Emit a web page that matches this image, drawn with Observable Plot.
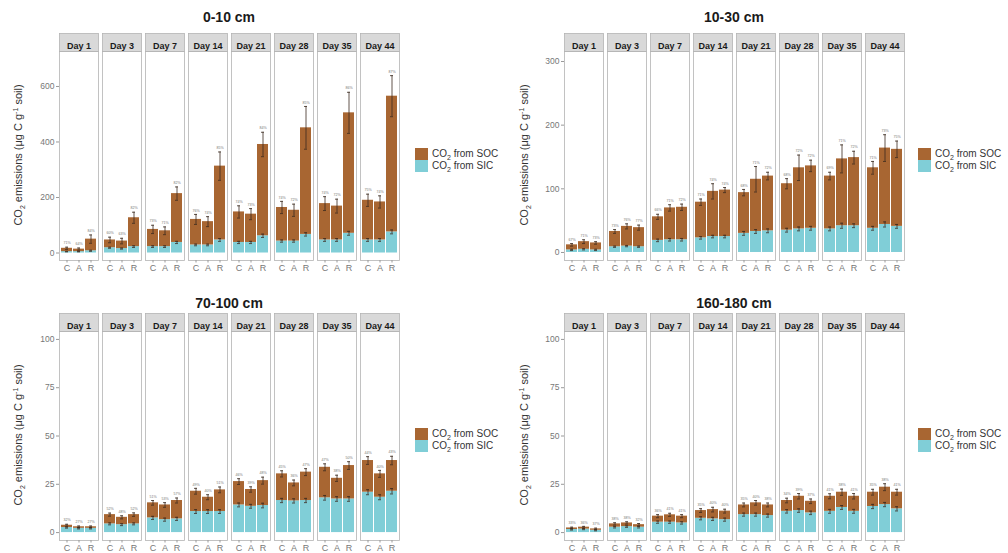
<!DOCTYPE html>
<html><head><meta charset="utf-8">
<script src="https://cdn.jsdelivr.net/npm/d3@7"></script>
<script src="https://cdn.jsdelivr.net/npm/@observablehq/plot@0.6"></script>
<style>
body{margin:0;background:#fff;font-family:"Liberation Sans",Arial,sans-serif;}
#root{position:relative;width:1008px;height:553px;overflow:hidden;background:#fff;}
.title{position:absolute;font-weight:bold;font-size:14px;color:#1a1a1a;transform:translate(-50%,-50%);white-space:nowrap;}
.ytitle{position:absolute;font-size:11px;color:#333;white-space:nowrap;transform:translate(-50%,-50%) rotate(-90deg);}
.ytitle sub,.ytitle sup,.legend sub{font-size:7px;}
.legend{position:absolute;font-size:10px;color:#333;}
.legend .row{display:flex;align-items:center;height:12px;white-space:nowrap;}
.legend .key{width:13px;height:12px;margin-right:4px;flex:none;}
.panel{position:absolute;}
</style></head>
<body><div id="root"></div>
<script>
// ---------------- data ----------------
const days = ["Day 1","Day 3","Day 7","Day 14","Day 21","Day 28","Day 35","Day 44"];
const treatments = ["C","A","R"];
const sources = ["SOC","SIC"];
const legendLabels = ["CO<sub>2</sub> from SOC","CO<sub>2</sub> from SIC"];
const depths = ["0-10 cm","10-30 cm","70-100 cm","160-180 cm"];

// 0-10 cm  (rows: C, A, R; columns: days)
const sic_0_10 = [[5,19,23,29,38,43,47,47],[5,16,23,29,38,43,47,47],[8,23,38,47,62,67,71,76]];
const soc_0_10 = [[12,28,62,92,110,121,131,143],[9,27,57,84,102,111,122,137],[42,104,176,266,329,384,434,489]];
const errTotal_0_10 = [[4,10,15,18,22,22,25,22],[4,10,14,18,20,22,25,22],[15,20,24,51,44,77,74,74]];
const errSic_0_10 = [[1,2,3,3,4,4,5,5],[1,2,3,3,4,4,5,5],[2,3,4,5,6,6,7,7]];

// 10-30 cm
const sic_10_30 = [[4,9,19,23,30,35,37,38],[5,10,20,25,33,37,42,44],[4,9,20,25,34,38,42,41]];
const soc_10_30 = [[8,24,37,56,64,73,83,95],[12,31,50,71,82,96,105,120],[11,30,51,73,86,98,107,121]];
const errTotal_10_30 = [[2,3,4,5,5,8,6,10],[3,4,5,12,20,20,22,21],[2,4,5,4,6,9,10,13]];
const errSic_10_30 = [[1,1,2,2,3,3,3,3],[1,1,2,2,3,3,4,4],[1,1,2,2,3,3,3,3]];

// 70-100 cm
const sic_70_100 = [[2.6,4.5,7.6,10.9,14.3,16.6,18.0,20.9],[2.2,4.1,6.7,10.9,13.6,16.4,17.4,18.3],[2.2,4.5,7.1,10.9,14.0,16.6,17.4,21.4]];
const soc_70_100 = [[1.2,4.8,7.8,10.5,12.1,13.8,15.8,16.4],[0.8,3.8,7.6,7.4,8.7,9.3,10.7,12.1],[0.8,4.8,9.5,11.2,12.9,14.7,17.3,15.9]];
const errTotal_70_100 = [[0.5,0.8,1.2,1.5,1.5,1.6,1.8,2.0],[0.4,0.8,1.2,1.3,1.4,1.5,1.6,1.8],[0.4,0.9,1.3,1.5,1.8,1.8,2.0,2.2]];
const errSic_70_100 = [[0.3,0.5,0.8,1.0,1.0,1.1,1.2,1.3],[0.3,0.5,0.8,1.0,1.0,1.1,1.2,1.3],[0.3,0.5,0.8,1.0,1.2,1.1,1.2,1.4]];

// 160-180 cm
const sic_160_180 = [[1.6,2.8,5.4,7.4,9.3,11.0,11.0,13.5],[1.8,3.1,5.4,7.1,9.3,11.4,13.0,14.5],[1.2,2.8,5.0,6.7,8.8,10.2,11.0,12.3]];
const soc_160_180 = [[0.8,1.7,3.1,4.0,5.0,5.6,7.8,7.4],[1.0,1.9,3.8,4.8,6.1,7.4,7.9,9.0],[0.7,1.3,3.5,4.4,5.5,6.0,7.8,8.6]];
const errTotal_160_180 = [[0.4,0.6,0.8,1.0,1.0,1.2,1.3,1.5],[0.4,0.6,0.8,1.2,1.2,1.4,1.6,1.8],[0.4,0.6,0.8,1.0,1.0,1.2,1.4,1.5]];
const errSic_160_180 = [[0.3,0.4,0.6,0.8,0.8,0.9,1.0,1.1],[0.3,0.4,0.6,0.8,0.8,0.9,1.0,1.1],[0.3,0.4,0.6,0.8,0.8,0.9,1.0,1.1]];

const yTicks_0_10 = [0,200,400,600];
const yTicks_10_30 = [0,100,200,300];
const yTicks_deep = [0,25,50,75,100];

// ---------------- style / layout ----------------
const BROWN = "#a86632", CYAN = "#80ced7", ERR = "#3a2a1e";
const panels = [
  {name:depths[0], sic:sic_0_10, soc:soc_0_10, errT:errTotal_0_10, errS:errSic_0_10, ticks:yTicks_0_10, domain:[-27,726],
   left:0, top:28, width:500, height:250, mT:23, mB:18, mL:55, mR:97, tx:229, ty:17, yx:19, yy:155, lx:415, ly:148},
  {name:depths[1], sic:sic_10_30, soc:soc_10_30, errT:errTotal_10_30, errS:errSic_10_30, ticks:yTicks_10_30, domain:[-12.6,315.7],
   left:500, top:28, width:508, height:250, mT:23, mB:18, mL:62, mR:102, tx:734, ty:17, yx:525, yy:155, lx:918, ly:148},
  {name:depths[2], sic:sic_70_100, soc:soc_70_100, errT:errTotal_70_100, errS:errSic_70_100, ticks:yTicks_deep, domain:[-4.1,104.1],
   left:0, top:308, width:500, height:245, mT:23, mB:13, mL:55, mR:97, tx:229, ty:303, yx:19, yy:435, lx:415, ly:428},
  {name:depths[3], sic:sic_160_180, soc:soc_160_180, errT:errTotal_160_180, errS:errSic_160_180, ticks:yTicks_deep, domain:[-4.1,104.1],
   left:500, top:308, width:508, height:245, mT:23, mB:13, mL:62, mR:102, tx:734, ty:303, yx:525, yy:435, lx:918, ly:428}
];

const root = document.getElementById("root");

function drawPanel(cfg){
  const rows = [], bars = [];
  days.forEach((day,i)=>treatments.forEach((t,j)=>{
    const sic = cfg.sic[j][i], soc = cfg.soc[j][i];
    rows.push({day, trt:t, source:"SIC", value:sic});
    rows.push({day, trt:t, source:"SOC", value:soc});
    bars.push({day, trt:t, sic, total:sic+soc, err:cfg.errT[j][i], serr:cfg.errS[j][i],
               pct: Math.round(soc/(sic+soc)*100) + "%"});
  }));
  const plotH = cfg.height - cfg.mT - cfg.mB;
  const chart = Plot.plot({
    width: cfg.width, height: cfg.height,
    marginTop: cfg.mT, marginBottom: cfg.mB, marginLeft: cfg.mL, marginRight: cfg.mR,
    style: {fontFamily:'"Liberation Sans", Arial, sans-serif', fontSize:"8.5px", color:"#666", background:"transparent", overflow:"visible"},
    fx: {domain: days, paddingInner: 0.09, paddingOuter: 0, axis: null, label: null},
    x: {domain: treatments, paddingInner: 0.1, paddingOuter: 0.15, label: null},
    y: {domain: cfg.domain, label: null},
    color: {domain: sources, range: [BROWN, CYAN]},
    marks: [
      Plot.frame({fill:"#d9d9d9", stroke:"#b3b3b3", strokeWidth:0.8, insetTop:-18, insetBottom:plotH}),
      Plot.text(days, {fx:d=>d, text:d=>d, frameAnchor:"top", dy:-9, fontWeight:"bold", fontSize:9, fill:"#1a1a1a"}),
      Plot.barY(rows, {fx:"day", x:"trt", y:"value", fill:"source"}),
      // SIC error bars
      Plot.ruleX(bars, {fx:"day", x:"trt", y1:d=>d.sic-d.serr, y2:d=>d.sic+d.serr, stroke:ERR, strokeWidth:0.8}),
      Plot.tickY(bars, {fx:"day", x:"trt", y:d=>d.sic+d.serr, insetLeft:4, insetRight:4, stroke:ERR, strokeWidth:0.8}),
      Plot.tickY(bars, {fx:"day", x:"trt", y:d=>d.sic-d.serr, insetLeft:4, insetRight:4, stroke:ERR, strokeWidth:0.8}),
      // total error bars
      Plot.ruleX(bars, {fx:"day", x:"trt", y1:d=>d.total-d.err, y2:d=>d.total+d.err, stroke:ERR, strokeWidth:0.8}),
      Plot.tickY(bars, {fx:"day", x:"trt", y:d=>d.total+d.err, insetLeft:4, insetRight:4, stroke:ERR, strokeWidth:0.8}),
      Plot.tickY(bars, {fx:"day", x:"trt", y:d=>d.total-d.err, insetLeft:4, insetRight:4, stroke:ERR, strokeWidth:0.8}),
      Plot.text(bars, {fx:"day", x:"trt", y:d=>d.total+d.err, dy:-4, text:"pct", fontSize:3.6, fill:"#777"}),
      Plot.frame({stroke:"#b3b3b3", strokeWidth:0.8}),
      Plot.axisY(cfg.ticks, {tickSize:3, tickPadding:2, fill:"#777", stroke:"#999", label:null}),
      Plot.axisX({tickSize:2.5, tickPadding:1.5, fill:"#777", stroke:"#999", label:null, fontSize:9})
    ]
  });
  const holder = document.createElement("div");
  holder.className = "panel";
  holder.style.left = cfg.left + "px";
  holder.style.top = cfg.top + "px";
  holder.appendChild(chart);
  root.appendChild(holder);

  const title = document.createElement("div");
  title.className = "title";
  title.style.left = cfg.tx + "px"; title.style.top = cfg.ty + "px";
  title.textContent = cfg.name;
  root.appendChild(title);

  const yt = document.createElement("div");
  yt.className = "ytitle";
  yt.style.left = cfg.yx + "px"; yt.style.top = cfg.yy + "px";
  yt.innerHTML = "CO<sub>2</sub> emissions (μg C g<sup>-1</sup> soil)";
  root.appendChild(yt);

  const lg = document.createElement("div");
  lg.className = "legend";
  lg.style.left = cfg.lx + "px"; lg.style.top = cfg.ly + "px";
  lg.innerHTML = sources.map((s,k)=>`<div class="row"><div class="key" style="background:${k===0?BROWN:CYAN}"></div><span>${legendLabels[k]}</span></div>`).join("");
  root.appendChild(lg);
}
panels.forEach(drawPanel);
</script>
</body></html>
